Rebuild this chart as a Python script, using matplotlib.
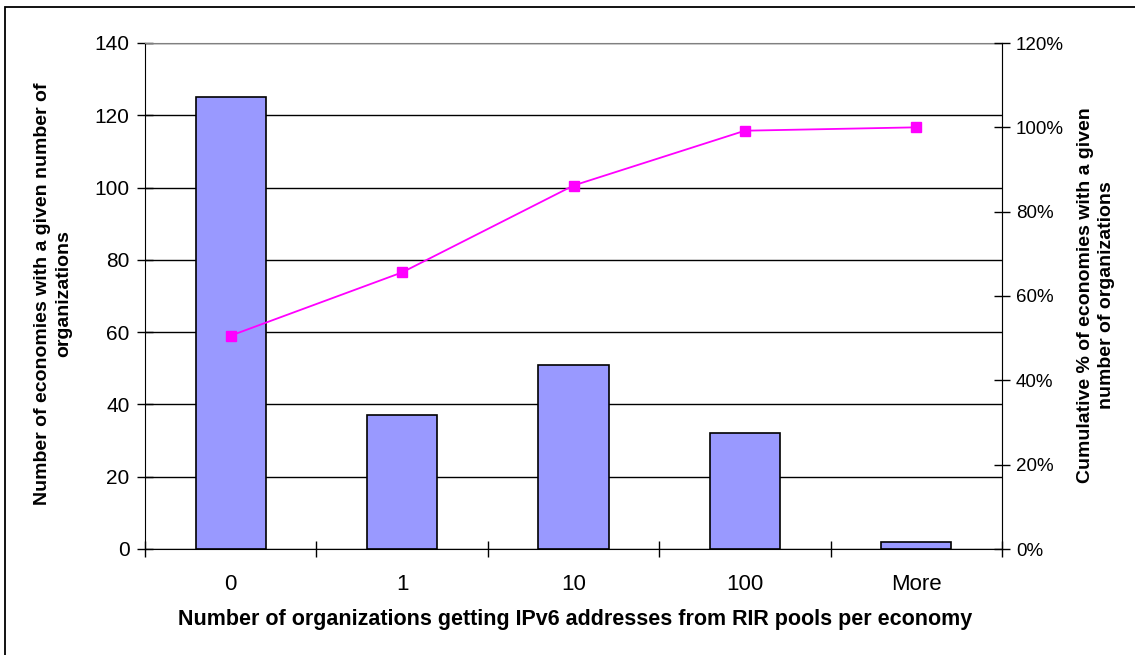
import matplotlib
matplotlib.use("Agg")
import matplotlib.pyplot as plt
from matplotlib.patches import Rectangle
from matplotlib.ticker import FixedLocator, NullFormatter

plt.rcParams['font.family'] = ['Liberation Sans', 'DejaVu Sans']

# Histogram of organizations per economy
categories = ["0", "1", "10", "100", "More"]
economies = [125, 37, 51, 32, 2]
cumulative_pct = [50.6, 65.6, 86.2, 99.2, 100.0]
left_ticks = [0, 20, 40, 60, 80, 100, 120, 140]
right_ticks = [0, 20, 40, 60, 80, 100, 120]
right_tick_labels = [f"{v}%" for v in right_ticks]

fig = plt.figure(figsize=(11.35, 6.55), dpi=100)
W, H = 1135, 655

# outer chart frame
fig.patches.append(Rectangle((5 / W, -0.1), 1.2, 1 - 7 / H + 0.1,
                             transform=fig.transFigure, fill=False,
                             edgecolor="black", linewidth=1.3))

ax = fig.add_axes([145 / W, 1 - 549 / H, (1002 - 145) / W, (549 - 43) / H])
x = list(range(len(categories)))

ax.set_ylim(0, 140)
ax.set_xlim(-0.5, len(categories) - 0.5)
ax.set_yticks(left_ticks)
ax.set_yticklabels([str(v) for v in left_ticks])
ax.yaxis.grid(True, color="black", linewidth=1.0)
ax.set_axisbelow(True)

ax.bar(x, economies, width=0.41, color="#9999FF", edgecolor="black",
       linewidth=1.2, zorder=2)

# category labels centered, tick marks at category boundaries
ax.set_xticks(x)
ax.set_xticklabels(categories)
ax.tick_params(axis="x", which="major", length=0, pad=18, labelsize=16)
ax.xaxis.set_minor_locator(FixedLocator([i + 0.5 for i in range(-1, len(categories))]))
ax.xaxis.set_minor_formatter(NullFormatter())
ax.tick_params(axis="x", which="minor", length=12, direction="inout", width=1)
ax.tick_params(axis="y", length=12, direction="inout", width=1, labelsize=15, pad=5)

for side in ["top", "right"]:
    ax.spines[side].set_color("#808080")
ax.spines["left"].set_color("black")
ax.spines["bottom"].set_color("black")

ax2 = ax.twinx()
ax2.set_ylim(0, 120)
ax2.set_yticks(right_ticks)
ax2.set_yticklabels(right_tick_labels)
ax2.tick_params(axis="y", length=12, direction="inout", width=1, labelsize=13.5, pad=4)
ax2.spines["right"].set_color("black")
for side in ["top", "left", "bottom"]:
    ax2.spines[side].set_visible(False)
ax2.plot(x, cumulative_pct, color="#FF00FF", linewidth=1.3, marker="s",
         markersize=7, markerfacecolor="#FF00FF", markeredgecolor="#FF00FF", zorder=3)

# axis titles
fig.text(575 / W, 1 - 620 / H,
         "Number of organizations getting IPv6 addresses from RIR pools per economy",
         fontsize=15.5, fontweight="bold", ha="center", va="center")
fig.text(53 / W, 1 - 294 / H,
         "Number of economies with a given number of\norganizations",
         fontsize=14, fontweight="bold", rotation=90, ha="center", va="center",
         multialignment="center", linespacing=1.3)
fig.text(1096 / W, 1 - 295 / H,
         "Cumulative % of economies with a given\nnumber of organizations",
         fontsize=14, fontweight="bold", rotation=90, ha="center", va="center",
         multialignment="center", linespacing=1.3)

fig.savefig("out.png", dpi=100, facecolor="white")
